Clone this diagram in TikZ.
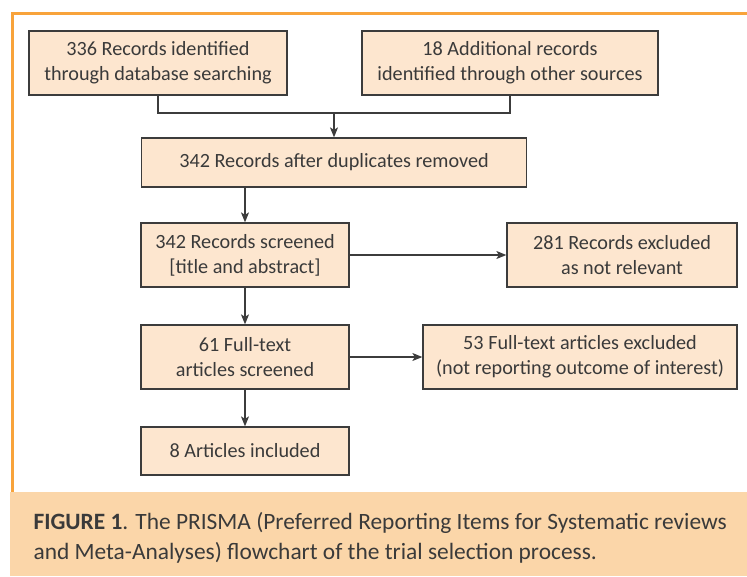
\documentclass[tikz,border=0pt]{standalone}
\usepackage{fontspec}
\setmainfont{Carlito}
\usepackage{tikz}
\usetikzlibrary{%
  positioning
 ,arrows.meta
 ,calc
}
\definecolor{boxfill}{HTML}{FDE6CF}
\definecolor{boxline}{HTML}{3C3C3C}
\definecolor{frameor}{HTML}{F8A33B}
\definecolor{capfill}{HTML}{FBD6A9}
\definecolor{txt}{HTML}{3A3A3A}
\tikzstyle{flow}=[x=1pt,y=-1pt,>={Stealth[length=10pt,width=8pt,inset=2.5pt]},line width=1.1pt]
\tikzstyle{bx}=[draw=boxline,fill=boxfill,line width=1.3pt,align=center,text=txt,inner sep=0pt,font=\fontsize{20.2}{25}\selectfont]
\tikzstyle{tall}=[minimum width=208pt,minimum height=64pt]
\tikzstyle{captxt}=[anchor=base west,inner sep=0pt,text=txt,font=\fontsize{23.4}{30}\selectfont]

\begin{document}
\begin{tikzpicture}[flow]
  \clip (0,0) rectangle (747,576);
  % frame and caption band
  \draw[frameor,line width=3pt] (12,492) -- (12,13) -- (760,13);
  \fill[capfill] (10,492) rectangle (747,576);
%
  \node[bx,minimum width=258pt,minimum height=64pt] (ident) at (158,63) {336 Records identified\\through database searching};
  \node[bx,minimum width=296pt,minimum height=64pt] (other) at (510,63) {18 Additional records\\identified through other sources};
  \node[bx,minimum width=385pt,minimum height=49pt] (dup) at (334,162.5) {342 Records after duplicates removed};
  \node[bx,tall] (scr) at (245,255) {342 Records screened\\{[title and abstract]}};
  \node[bx,minimum width=230pt,minimum height=64pt] (excl) at (622,255) {281 Records excluded\\as not relevant};
  \node[bx,tall] (full) at (245,357) {61 Full-text\\articles screened};
  \node[bx,minimum width=314pt,minimum height=64pt] (fexcl) at (580,357) {53 Full-text articles excluded\\(not reporting outcome of interest)};
  \node[bx,minimum width=208pt,minimum height=48pt] (incl) at (245,451) {8 Articles included};
  \coordinate (join) at (334,113);
%
  \draw[boxline] (ident.south) |- (join) -| (other.south);
  \draw[->,boxline] (join) -- (dup.north);
  \draw[->,boxline] (dup.south -| scr.north) -- (scr);
  \draw[->,boxline] (scr) -- (excl);
  \draw[->,boxline] (scr) -- (full);
  \draw[->,boxline] (full) -- (fexcl);
  \draw[->,boxline] (full) -- (incl);
%
  \node[captxt] (cap1) at (33,529) {\textbf{FIGURE 1}. The PRISMA (Preferred Reporting Items for Systematic reviews};
  \node[captxt] (cap2) at (33,559) {and Meta-Analyses) flowchart of the trial selection process.};
\end{tikzpicture}
\end{document}
